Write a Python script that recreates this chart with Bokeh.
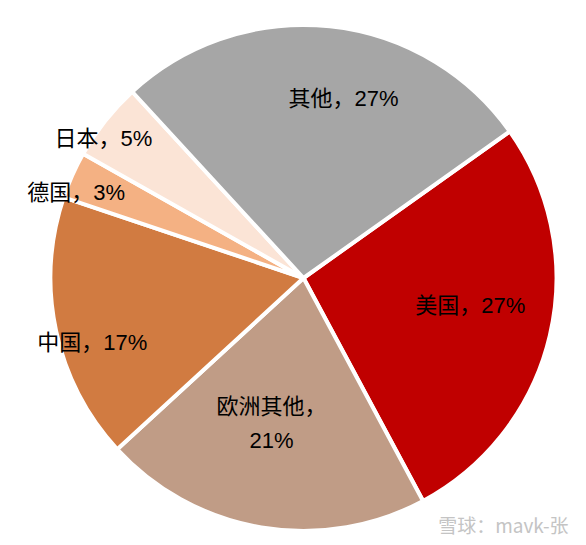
import math
from bokeh.plotting import figure
from bokeh.models import Range1d, ColumnDataSource
from bokeh.core.properties import value
from bokeh.embed import file_html
from bokeh.resources import INLINE

# ---- data ----
regions = ["美国", "欧洲其他", "中国", "德国", "日本", "其他"]
shares = [27, 21, 17, 3, 5, 27]
label_texts = ["美国，27%", "欧洲其他，\n21%", "中国，17%", "德国，3%", "日本，5%", "其他，27%"]
colors = ["#C00000", "#C09C86", "#D17B41", "#F4B183", "#FBE4D6", "#A6A6A6"]
watermark = "雪球：mavk-张"

# ---- layout / style ----
W, H = 570, 537
cx, cy, R = 303, 259.5, 253
start_deg = 35.4          # math angle where the first slice starts (clockwise order)
label_rfrac = [0.668, 0.59, 0.873, 0.96, 0.964, 0.727]
label_dang = [-3.8, 2.8, -5.0, -3.4, -3.5, 6.6]   # degrees clockwise offset from mid-angle
FONT = "Liberation Sans Narrow, Liberation Sans, Noto Sans CJK SC"

p = figure(width=W, height=H, x_range=Range1d(0, W), y_range=Range1d(0, H),
           output_backend="svg", toolbar_location=None, min_border=0,
           x_axis_location=None, y_axis_location=None)
p.grid.visible = False
p.outline_line_color = None
p.background_fill_color = "white"
p.border_fill_color = "white"

total = float(sum(shares))
starts, ends, lx, ly = [], [], [], []
acc = 0.0
for i, s in enumerate(shares):
    a0 = start_deg - acc / total * 360.0
    a1 = a0 - s / total * 360.0
    starts.append(math.radians(a0))
    ends.append(math.radians(a1))
    mid = (a0 + a1) / 2.0 - label_dang[i]
    r = label_rfrac[i] * R
    lx.append(cx + r * math.cos(math.radians(mid)))
    ly.append(cy + r * math.sin(math.radians(mid)))
    acc += s

src = ColumnDataSource(dict(region=regions, share=shares, start=starts, end=ends,
                            color=colors, lx=lx, ly=ly, label=label_texts))

p.wedge(x=cx, y=cy, radius=R, start_angle="start", end_angle="end", direction="clock",
        fill_color="color", line_color="white", line_width=4, source=src)

p.text(x="lx", y="ly", text="label", source=src, text_align="center", text_baseline="middle",
       text_font=value(FONT), text_font_size="22px", text_color="#000000", text_line_height=1.36)

p.text(x=[W - 2], y=[13], text=[watermark], text_align="right", text_baseline="middle",
       text_font=value("Noto Sans CJK SC"), text_font_size="19px", text_color="#C4C4C4")

open("out.html", "w").write(file_html(p, INLINE))
